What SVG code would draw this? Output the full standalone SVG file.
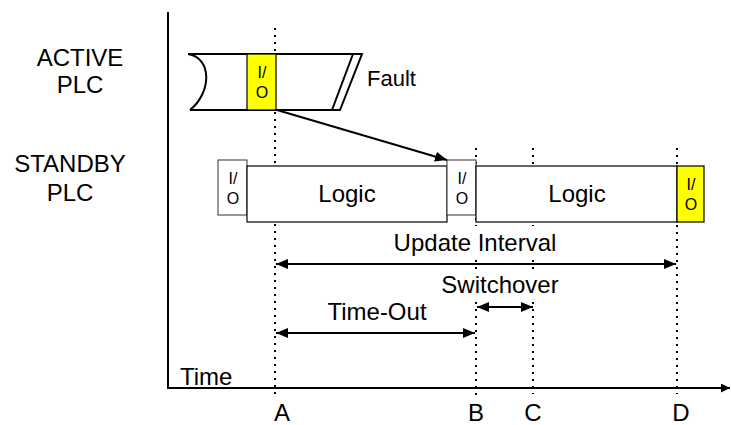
<svg xmlns="http://www.w3.org/2000/svg" width="731" height="425" viewBox="0 0 731 425">
<style>
text{font-family:"Liberation Sans",Arial,sans-serif;fill:#000}
.lbl{font-size:24px;text-anchor:middle}
.io{font-size:16px;text-anchor:middle}
.dot{stroke:#000;stroke-width:2;stroke-dasharray:2,5;fill:none}
.ln{stroke:#000;stroke-width:2;fill:none}
.box{fill:#fff;stroke:#000;stroke-width:1.2}
.iobox{fill:#fff;stroke:#333;stroke-width:1}
.yel{fill:#ffff00;stroke:#000;stroke-width:1.2}
</style>
<defs>
<marker id="ah" viewBox="0 0 12 10" refX="12" refY="5" markerWidth="12" markerHeight="10" markerUnits="userSpaceOnUse" orient="auto-start-reverse">
<path d="M0,0 L12,5 L0,10 z" fill="#000"/>
</marker>
<marker id="ax" viewBox="0 0 9 9" refX="9" refY="4.5" markerWidth="9" markerHeight="9" markerUnits="userSpaceOnUse" orient="auto">
<path d="M0,0 L9,4.5 L0,9 z" fill="#000"/>
</marker>
</defs>
<rect width="731" height="425" fill="#fff"/>

<g id="guides">
<line class="dot" x1="275" y1="28" x2="275" y2="394"/>
<line class="dot" x1="476" y1="148" x2="476" y2="396"/>
<line class="dot" x1="533" y1="148" x2="533" y2="394"/>
<line class="dot" x1="677" y1="148" x2="677" y2="394"/>
</g>

<g id="axes">
<line class="ln" x1="168" y1="12" x2="168" y2="389"/>
<line class="ln" x1="167" y1="388" x2="730" y2="388" marker-end="url(#ax)"/>
</g>

<g id="row-labels">
<text class="lbl" x="80" y="66">ACTIVE</text>
<text class="lbl" x="80" y="93">PLC</text>
<text class="lbl" x="70" y="172">STANDBY</text>
<text class="lbl" x="70" y="201">PLC</text>
</g>

<g id="active-plc">
<path d="M188,54 L362,54 L340,110 L190,110 C212,92 212,58 188,54 Z" fill="#fff" stroke="none"/>
<path class="ln" stroke-width="1.5" d="M188,54 L362,54 L340,110 L190,110 M188,54 C212,58 212,92 190,110 M353,54 L332,110"/>
<rect class="yel" x="247" y="54" width="29" height="56"/>
<text class="io" x="262" y="78">I/</text>
<text class="io" x="262" y="98">O</text>
<text x="367" y="86" style="font-size:22px">Fault</text>
</g>

<g id="standby-io1">
<rect class="iobox" x="218" y="160" width="29" height="55"/>
<text class="io" x="233" y="184">I/</text>
<text class="io" x="233" y="204">O</text>
</g>
<g id="standby-logic1">
<rect class="box" x="247" y="166" width="200" height="56"/>
<text class="lbl" x="347" y="202">Logic</text>
</g>
<g id="standby-io2">
<rect class="iobox" x="447" y="160" width="29" height="55"/>
<text class="io" x="462" y="184">I/</text>
<text class="io" x="462" y="204">O</text>
</g>
<g id="standby-logic2">
<rect class="box" x="476" y="166" width="201" height="56"/>
<text class="lbl" x="577" y="202">Logic</text>
</g>
<g id="standby-io3">
<rect class="yel" x="677" y="166" width="27" height="56"/>
<text class="io" x="691" y="190">I/</text>
<text class="io" x="691" y="210">O</text>
</g>

<g id="dimension-labels">
<rect x="385" y="226" width="180" height="32" fill="#fff"/>
<text class="lbl" x="475" y="251">Update Interval</text>
<rect x="440" y="270" width="125" height="29" fill="#fff"/>
<text class="lbl" x="500" y="293">Switchover</text>
<text class="lbl" x="377" y="320">Time-Out</text>
<text x="180" y="385" style="font-size:24px">Time</text>
</g>

<g id="connectors">
<line class="ln" x1="277" y1="110" x2="447" y2="160" marker-end="url(#ah)"/>
<line class="ln" x1="276" y1="264" x2="676" y2="264" marker-start="url(#ah)" marker-end="url(#ah)"/>
<line class="ln" x1="477" y1="307" x2="533" y2="307" marker-start="url(#ah)" marker-end="url(#ah)"/>
<line class="ln" x1="276" y1="333" x2="475" y2="333" marker-start="url(#ah)" marker-end="url(#ah)"/>
</g>

<g id="ticks">
<text class="lbl" x="282" y="421">A</text>
<text class="lbl" x="476" y="421">B</text>
<text class="lbl" x="533" y="421">C</text>
<text class="lbl" x="681" y="421">D</text>
</g>
</svg>
